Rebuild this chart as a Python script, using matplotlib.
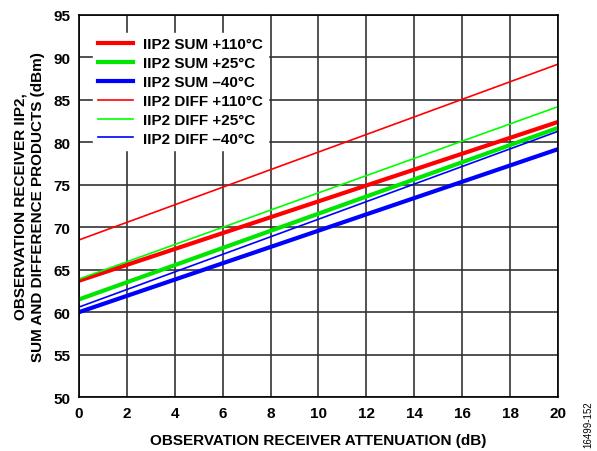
import matplotlib
matplotlib.use("Agg")
import matplotlib.pyplot as plt

plt.rcParams['font.family'] = ['Liberation Sans', 'DejaVu Sans']
plt.rcParams['font.weight'] = 'bold'

# attenuation endpoints (dB) and IIP2 values (dBm)
atten = [0, 20]
sum_110 = [63.7, 82.4]
sum_25 = [61.5, 81.7]
sum_m40 = [60.0, 79.2]
diff_110 = [68.5, 89.2]
diff_25 = [63.9, 84.2]
diff_m40 = [60.6, 81.3]

labels = ['IIP2 SUM +110°C', 'IIP2 SUM +25°C', 'IIP2 SUM \u201340°C',
          'IIP2 DIFF +110°C', 'IIP2 DIFF +25°C', 'IIP2 DIFF \u201340°C']

fig = plt.figure(figsize=(5.97, 4.52), dpi=100)
ax = fig.add_axes([0.132, 0.119, 0.803, 0.846])

ax.plot(atten, sum_110, color='#ff0000', lw=3, label=labels[0])
ax.plot(atten, sum_25, color='#00e600', lw=3, label=labels[1])
ax.plot(atten, sum_m40, color='#0000ff', lw=3, label=labels[2])
ax.plot(atten, diff_110, color='#ff0000', lw=1.2, label=labels[3])
ax.plot(atten, diff_25, color='#00ff00', lw=1.2, label=labels[4])
ax.plot(atten, diff_m40, color='#0000ff', lw=1.2, label=labels[5])

ax.set_xlim(0, 20)
ax.set_ylim(50, 95)
ax.set_xticks(range(0, 21, 2))
ax.set_yticks(range(50, 96, 5))
ax.grid(True, color='#333333', lw=1.2)
ax.set_axisbelow(True)
ax.tick_params(labelsize=11, length=0, pad=6)
for s in ax.spines.values():
    s.set_color('black')
    s.set_linewidth(1.2)

ax.set_xlabel('OBSERVATION RECEIVER ATTENUATION (dB)', fontsize=11, fontweight='bold', labelpad=10)
ax.set_ylabel('OBSERVATION RECEIVER IIP2,\nSUM AND DIFFERENCE PRODUCTS (dBm)', fontsize=11,
              fontweight='bold', labelpad=6, linespacing=1.3)

leg = ax.legend(loc='upper left', frameon=True, fontsize=11, handlelength=2.3,
                borderaxespad=0.3, labelspacing=0.32, handletextpad=0.7,
                borderpad=0.3, bbox_to_anchor=(0.02, 0.965))
leg.get_frame().set_facecolor('white')
leg.get_frame().set_edgecolor('white')
leg.get_frame().set_alpha(1)

fig.text(0.985, 0.06, '16499-152', rotation=90, fontsize=7, fontweight='normal', ha='center', va='center')

fig.savefig('out.png', dpi=100)
